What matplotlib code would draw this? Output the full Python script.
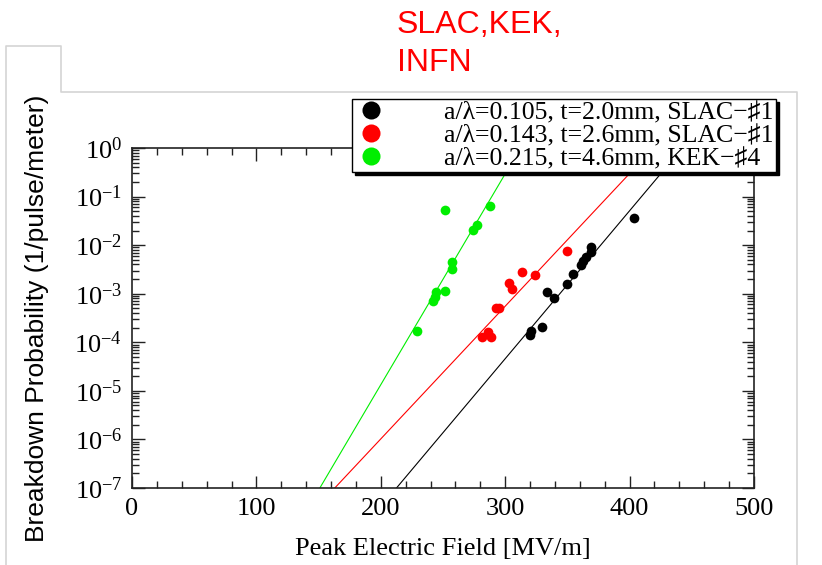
"""
Breakdown probability vs. peak electric field (SLAC / KEK / INFN structures).
"""

import matplotlib

matplotlib.use("Agg")
import matplotlib.pyplot as plt
import numpy as np
from matplotlib.lines import Line2D
from matplotlib.ticker import FixedLocator, LogLocator, LogFormatterMathtext

SERIF = ["Liberation Serif", "DejaVu Serif"]
SANS = ["Liberation Sans", "DejaVu Sans"]

plt.rcParams["font.family"] = SERIF
plt.rcParams["mathtext.fontset"] = "stix"

# measured points (field in MV/m, probability in 1/pulse/meter)
black_E = [403.5, 368.7, 368.7, 364.7, 362.8, 360.7, 354.8, 350.0, 333.9, 339.2, 329.3, 320.4, 319.9]
black_P = [0.037, 0.0090, 0.0071, 0.0056, 0.0048, 0.0039, 0.0025, 0.0016, 0.0011, 0.0008, 0.00021, 0.000168, 0.000144]

red_E = [349.4, 313.7, 323.9, 303.0, 305.4, 292.3, 295.0, 286.1, 281.6, 288.3]
red_P = [0.0076, 0.0028, 0.0024, 0.00166, 0.00127, 0.00052, 0.00050, 0.00016, 0.000127, 0.00013]

green_E = [251.3, 287.5, 277.0, 273.8, 256.9, 256.9, 252.0, 244.6, 241.8, 243.2, 228.7]
green_P = [0.053, 0.063, 0.026, 0.0204, 0.0044, 0.0032, 0.00115, 0.00106, 0.00072, 0.00087, 0.000174]

# exponential fits: field where the fit crosses 1e-7, and decades per MV/m
fit_E0 = [212.6, 163.0, 151.0]
fit_slope = [0.03046, 0.02732, 0.04341]

labels = [
    "a/\u03bb=0.105, t=2.0mm, SLAC\u2212\u266f1",
    "a/\u03bb=0.143, t=2.6mm, SLAC\u2212\u266f1",
    "a/\u03bb=0.215, t=4.6mm, KEK\u2212\u266f4",
]
colors = ["#000000", "#ff0000", "#00ee00"]

W, H = 822, 565
fig = plt.figure(figsize=(W / 100, H / 100), dpi=100)

# light grey slide frame with tab (pixel coords, y from top)
grey = "#d4d4d4"
fx = np.array([6, 6, 61, 61, 797, 797]) / W
fy = 1 - np.array([565, 46, 46, 92, 92, 565]) / H
fig.add_artist(Line2D(fx, fy, transform=fig.transFigure, color=grey, lw=1.2))

fig.text(397 / W, 1 - 10 / H, "SLAC,KEK,\nINFN", color="#ff0000", family=SANS,
         fontsize=23, va="top", ha="left", linespacing=1.36)

ax = fig.add_axes([132 / W, 1 - 488 / H, 622 / W, 340 / H])
ax.set_yscale("log")
ax.set_xlim(0, 500)
ax.set_ylim(1e-7, 1)

series = [(black_E, black_P), (red_E, red_P), (green_E, green_P)]
for (E, P), e0, k, c in zip(series, fit_E0, fit_slope, colors):
    xf = np.array([e0, e0 + 7.0 / k])
    yf = 10.0 ** (-7 + k * (xf - e0))
    ax.plot(xf, yf, color=c, lw=0.8, zorder=2)
    ax.plot(E, P, "o", color=c, ms=7, mew=0, zorder=3)

ax.xaxis.set_major_locator(FixedLocator([0, 100, 200, 300, 400, 500]))
ax.xaxis.set_minor_locator(FixedLocator(np.arange(0, 501, 20)))
ax.yaxis.set_major_locator(LogLocator(base=10, numticks=20))
ax.yaxis.set_minor_locator(LogLocator(base=10, subs=np.arange(2, 10), numticks=20))
ax.yaxis.set_major_formatter(LogFormatterMathtext())
ax.tick_params(which="both", direction="in", top=True, right=True, width=1.0, color="#222222")
ax.tick_params(which="major", length=9, labelsize=19, pad=7)
ax.tick_params(which="minor", length=5)
for sp in ax.spines.values():
    sp.set_linewidth(1.2)
    sp.set_color("#222222")

ax.set_xlabel("Peak Electric Field [MV/m]", fontsize=19, labelpad=13)
ax.set_ylabel("Breakdown Probability (1/pulse/meter)", family=SANS, fontsize=19, labelpad=18)

handles = [Line2D([], [], ls="none", marker="o", color=c, ms=13, mew=0) for c in colors]
leg = ax.legend(handles, labels, loc="upper right", bbox_to_anchor=(776 / W, 1 - 99 / H),
                bbox_transform=fig.transFigure, prop={"family": SERIF, "size": 18.5},
                fancybox=False, framealpha=1, edgecolor="black", borderpad=0.08,
                labelspacing=0.0, handletextpad=2.2, borderaxespad=0, handlelength=1.3,
                shadow={"color": "black", "alpha": 1})
leg.get_frame().set_linewidth(1.0)
leg.set_zorder(10)

fig.savefig("out.png", dpi=100)
